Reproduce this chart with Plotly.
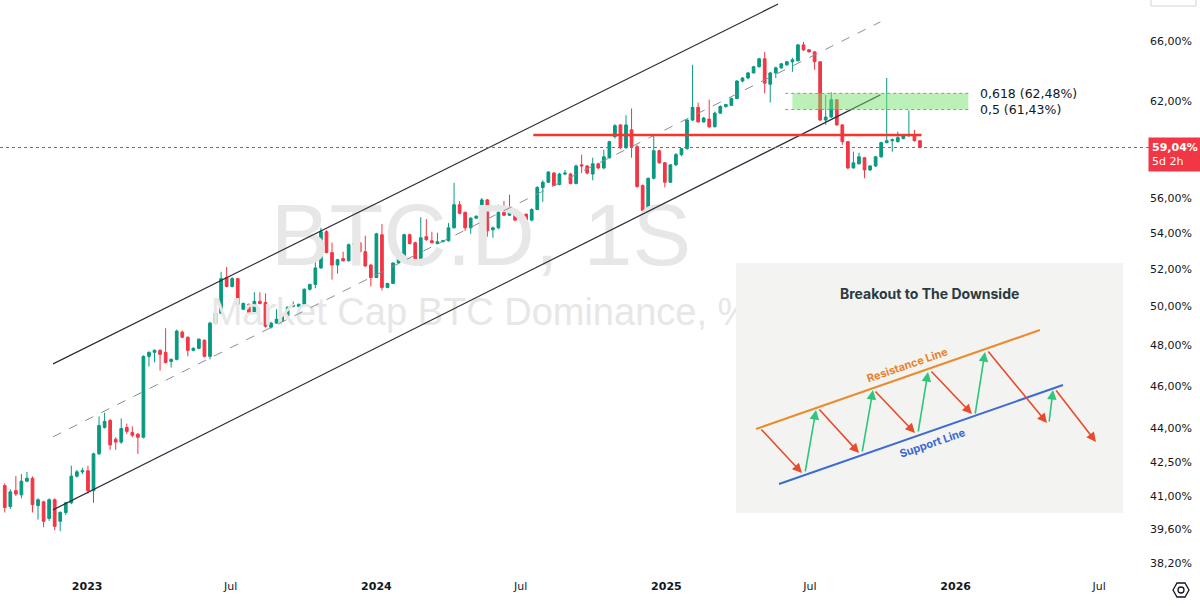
import numpy as np
import pandas as pd
import plotly.graph_objects as go

# ---------------- data (weekly BTC.D candles, %) ----------------
week_start = "2022-09-19"
opens = [41.45, 40.55, 41.23, 41.05, 41.64, 41.77, 40.59, 40.75, 40.05, 40.84,
         39.93, 40.30, 40.71, 41.86, 42.05, 42.10, 41.23, 42.85, 44.05, 44.37,
         43.51, 43.38, 44.05, 43.82, 43.74, 43.60, 47.45, 47.65, 47.75, 47.65,
         47.20, 47.30, 48.67, 48.41, 47.75, 47.85, 48.26, 47.45, 49.13, 49.64,
         51.53, 51.05, 51.47, 49.85, 50.10, 49.69, 50.26, 50.20, 48.92, 49.13,
         49.23, 49.49, 50.00, 50.00, 50.10, 50.90, 51.16, 52.05, 54.06, 52.89,
         52.21, 52.56, 52.44, 53.33, 53.44, 52.94, 52.21, 51.53, 53.89, 51.00,
         51.21, 52.32, 52.61, 53.89, 53.44, 52.21, 53.78, 53.55, 53.39, 53.50,
         53.55, 54.28, 55.61, 55.17, 54.28, 54.83, 54.94, 55.89, 54.17, 54.28,
         55.17, 55.00, 55.28, 54.72, 55.06, 54.72, 55.33, 56.62, 56.93, 57.48,
         56.80, 57.42, 57.42, 56.86, 57.98, 57.91, 57.42, 58.04, 57.79, 58.41,
         59.71, 60.45, 59.03, 60.14, 59.09, 56.74, 55.28, 57.17, 58.84, 58.10,
         56.93, 57.98, 58.60, 58.97, 60.76, 61.57, 60.64, 60.82, 60.33, 61.20,
         61.63, 61.70, 62.14, 63.29, 63.49, 63.83, 64.24, 64.78, 63.08, 63.83,
         64.17, 64.37, 64.58, 64.64, 65.73, 65.39, 65.25, 64.58, 60.76, 60.95,
         62.07, 60.45, 59.40, 57.79, 58.04, 58.41, 57.67, 57.91, 58.47, 59.34,
         59.46, 59.40, 59.59, 59.77, 59.83, 59.46]
highs = [41.55, 41.30, 41.86, 41.95, 42.05, 41.85, 40.90, 40.80, 40.90, 40.90,
         40.35, 40.75, 42.32, 42.14, 42.23, 42.32, 42.90, 44.56, 44.74, 44.45,
         43.60, 44.47, 44.23, 44.10, 43.80, 47.50, 47.70, 47.80, 47.80, 48.87,
         47.35, 48.80, 48.75, 48.45, 47.90, 48.35, 48.30, 49.20, 49.70, 51.84,
         52.10, 51.55, 51.50, 50.20, 50.15, 50.74, 50.74, 50.68, 49.20, 49.85,
         49.55, 50.00, 50.26, 50.15, 50.95, 51.20, 52.67, 54.28, 54.15, 53.44,
         52.55, 52.94, 53.40, 55.28, 53.50, 53.83, 52.25, 54.00, 54.50, 51.25,
         52.35, 52.65, 53.95, 53.95, 53.50, 54.89, 54.78, 54.06, 54.00, 53.60,
         54.55, 56.89, 55.83, 55.20, 54.90, 55.00, 56.00, 55.95, 54.35, 55.61,
         55.83, 56.19, 55.35, 55.10, 55.10, 55.40, 56.70, 57.05, 57.60, 57.55,
         57.50, 57.67, 57.50, 58.00, 58.60, 57.95, 58.41, 58.10, 58.90, 59.45,
         60.50, 60.50, 61.07, 61.50, 59.20, 56.80, 57.20, 59.77, 58.90, 58.15,
         58.00, 58.70, 59.00, 60.80, 64.37, 61.88, 60.95, 62.07, 61.30, 61.70,
         61.80, 62.20, 63.35, 63.55, 63.90, 64.30, 64.85, 65.25, 63.90, 64.25,
         64.50, 64.65, 64.85, 65.80, 65.93, 65.45, 65.30, 64.60, 62.37, 62.55,
         62.10, 60.50, 59.45, 58.78, 58.72, 58.45, 57.95, 58.50, 59.40, 63.49,
         59.60, 60.02, 59.80, 61.38, 60.14, 59.50]
lows = [40.30, 40.45, 41.00, 40.90, 41.60, 40.30, 40.00, 39.68, 39.95, 39.56,
        39.52, 40.20, 40.65, 41.80, 41.95, 41.10, 40.71, 42.80, 44.00, 43.03,
        43.03, 43.30, 43.74, 43.60, 42.85, 43.55, 46.95, 47.15, 46.75, 47.10,
        46.90, 47.25, 48.35, 47.45, 47.70, 47.80, 47.40, 47.30, 49.10, 49.60,
        51.00, 51.00, 50.05, 49.80, 49.65, 49.65, 50.10, 48.90, 48.85, 49.10,
        49.20, 49.45, 49.95, 49.95, 50.05, 50.84, 50.95, 52.00, 52.85, 51.42,
        51.74, 52.40, 52.40, 53.30, 52.90, 52.10, 51.05, 51.50, 50.84, 50.95,
        51.20, 52.30, 52.55, 53.35, 52.20, 52.15, 53.55, 53.40, 53.35, 53.45,
        53.50, 54.25, 55.05, 54.11, 53.94, 54.80, 54.90, 53.78, 53.72, 54.20,
        54.95, 54.95, 54.65, 54.65, 54.65, 54.65, 55.30, 55.78, 56.90, 56.70,
        56.75, 57.35, 56.80, 56.80, 57.48, 57.40, 57.05, 57.70, 57.70, 58.35,
        59.60, 58.95, 58.95, 58.41, 56.60, 54.56, 55.20, 57.10, 58.05, 56.62,
        56.90, 57.90, 58.50, 58.90, 60.70, 60.60, 60.60, 60.25, 60.30, 61.15,
        61.55, 61.65, 62.10, 63.20, 63.40, 63.80, 64.20, 62.47, 61.88, 63.49,
        64.10, 64.30, 63.90, 64.60, 65.30, 65.20, 64.03, 60.70, 60.45, 60.90,
        60.40, 59.20, 57.70, 57.75, 58.00, 57.17, 57.60, 57.85, 58.40, 59.30,
        58.78, 59.35, 59.55, 59.70, 59.40, 59.00]
closes = [40.51, 41.18, 41.09, 41.64, 41.77, 40.63, 40.84, 39.93, 40.84, 39.72,
          40.30, 40.71, 41.86, 42.05, 42.10, 41.23, 42.85, 44.14, 44.33, 43.25,
          43.38, 44.00, 43.87, 43.69, 43.60, 47.45, 47.65, 47.75, 47.55, 47.15,
          47.30, 48.72, 48.41, 47.75, 47.85, 48.31, 47.45, 49.13, 49.64, 51.47,
          51.05, 51.47, 50.10, 50.15, 49.69, 50.26, 50.15, 48.97, 49.13, 49.33,
          49.49, 49.95, 50.05, 50.10, 50.90, 51.16, 52.05, 54.06, 52.89, 52.21,
          52.50, 52.44, 53.33, 53.44, 52.94, 52.16, 51.53, 53.94, 51.00, 51.21,
          52.32, 52.61, 53.89, 53.39, 52.27, 53.72, 53.61, 53.44, 53.50, 53.55,
          54.28, 55.61, 55.11, 54.28, 54.83, 54.94, 55.89, 54.11, 54.28, 55.17,
          55.00, 55.28, 54.72, 55.06, 54.72, 55.33, 56.62, 56.93, 57.54, 56.74,
          57.42, 57.48, 56.86, 57.91, 57.91, 57.48, 58.04, 57.79, 58.47, 59.40,
          60.40, 59.03, 60.45, 59.09, 56.68, 55.28, 57.17, 58.84, 58.10, 56.93,
          57.98, 58.60, 58.97, 60.76, 61.57, 60.64, 60.89, 60.33, 61.20, 61.63,
          61.75, 62.14, 63.29, 63.49, 63.83, 64.24, 64.78, 63.15, 63.83, 64.17,
          64.44, 64.58, 64.71, 65.73, 65.39, 65.25, 64.58, 60.76, 60.95, 62.07,
          60.45, 59.40, 57.79, 58.10, 58.47, 57.67, 57.91, 58.47, 59.34, 59.46,
          59.52, 59.65, 59.77, 59.83, 59.46, 59.04]

price_ticks = [66, 62, 56, 54, 52, 50, 48, 46, 44, 42.5, 41, 39.6, 38.2]
price_tick_text = ["66,00%", "62,00%", "56,00%", "54,00%", "52,00%", "50,00%",
                   "48,00%", "46,00%", "44,00%", "42,50%", "41,00%", "39,60%", "38,20%"]
date_ticks = ["2023-01-01", "2023-07-01", "2024-01-01", "2024-07-01",
              "2025-01-01", "2025-07-01", "2026-01-01", "2026-07-01"]
date_tick_text = ["<b>2023</b>", "Jul", "<b>2024</b>", "Jul",
                  "<b>2025</b>", "Jul", "<b>2026</b>", "Jul"]

last_price = 59.04
last_label = "<b>59,04%</b><br>5d 2h"
fib_levels = [62.48, 61.43]
fib_labels = ["0,618 (62,48%)", "0,5 (61,43%)"]
fib_zone_dates = ["2025-06-09", "2026-01-17"]
fib_line_dates = ["2025-05-31", "2026-01-17"]
resistance_level = 59.82
resistance_dates = ["2024-07-17", "2025-11-19"]
upper_dates, upper_vals = ["2022-11-19", "2025-05-22"], [47.08, 68.6]
mid_dates, mid_vals = ["2022-11-19", "2025-09-28"], [43.62, 67.33]
lower_dates, lower_vals = ["2022-11-19", "2025-09-28"], [40.41, 62.38]
watermark_date = "2024-05-12"
watermark_vals = [53.43, 49.5]
watermark_text = ["BTC.D, 1S", "Market Cap BTC Dominance, %"]

x_range = ["2022-09-13", "2026-09-02"]
y_range = [37.63, 68.89]

# ---------------- styling ----------------
UP, DN = "#089981", "#f23645"
TXT = "#131722"
W, H = 1200, 606
ML, MR, MT, MB = 0, 51, 0, 28
PW, PH = W - ML - MR, H - MT - MB


def PX(x):
    return (x - ML) / PW


def PY(y):
    return 1 - (y - MT) / PH


dates = pd.date_range(week_start, periods=len(opens), freq="7D")

fig = go.Figure()

# watermark (below candles)
fig.add_trace(go.Scatter(
    x=[watermark_date, watermark_date], y=watermark_vals, mode="text",
    text=watermark_text, textposition="middle center",
    textfont=dict(size=[88, 38], color="#e7e7e7", family="Liberation Sans"),
    hoverinfo="skip", showlegend=False))

fig.add_trace(go.Candlestick(
    x=dates, open=opens, high=highs, low=lows, close=closes,
    increasing=dict(line=dict(color=UP, width=1), fillcolor=UP),
    decreasing=dict(line=dict(color=DN, width=1), fillcolor=DN),
    whiskerwidth=0, showlegend=False, hoverinfo="skip"))

# channel
fig.add_trace(go.Scatter(x=upper_dates, y=upper_vals, mode="lines",
                         line=dict(color="#2a2e39", width=1.2), showlegend=False, hoverinfo="skip"))
fig.add_trace(go.Scatter(x=mid_dates, y=mid_vals, mode="lines",
                         line=dict(color="#8a8d96", width=1, dash="dash"), showlegend=False, hoverinfo="skip"))
fig.add_trace(go.Scatter(x=lower_dates, y=lower_vals, mode="lines",
                         line=dict(color="#2a2e39", width=1.2), showlegend=False, hoverinfo="skip"))

# horizontal resistance
fig.add_trace(go.Scatter(x=resistance_dates, y=[resistance_level] * 2, mode="lines",
                         line=dict(color="#f4372b", width=2.5), showlegend=False, hoverinfo="skip"))

# current price dotted line
fig.add_trace(go.Scatter(x=x_range, y=[last_price] * 2, mode="lines",
                         line=dict(color="#f23645", width=1, dash="dot"), showlegend=False, hoverinfo="skip"))

# fib zone
z0, z1 = fib_zone_dates
fig.add_trace(go.Scatter(x=[z0, z1, z1, z0, z0],
                         y=[fib_levels[1], fib_levels[1], fib_levels[0], fib_levels[0], fib_levels[1]],
                         mode="lines", fill="toself", fillcolor="rgba(120,225,110,0.5)",
                         line=dict(width=0), showlegend=False, hoverinfo="skip"))
for lv in fib_levels:
    fig.add_trace(go.Scatter(x=fib_line_dates, y=[lv, lv], mode="lines",
                             line=dict(color="#8a9a8a", width=1, dash="dot"),
                             showlegend=False, hoverinfo="skip"))

shapes = []
annotations = []

for lv, lab in zip(fib_levels, fib_labels):
    annotations.append(dict(xref="paper", x=PX(978), xanchor="left", yref="y", y=np.log10(lv),
                            yanchor="middle", text=lab, showarrow=False,
                            font=dict(family="DejaVu Sans", size=12.5, color=TXT)))

annotations.append(dict(xref="paper", x=PX(1148), xanchor="left", yref="y", y=np.log10(last_price),
                        yanchor="middle", yshift=-7, text=last_label, showarrow=False, align="left",
                        bgcolor="#f23645", borderpad=3, width=48,
                        font=dict(family="DejaVu Sans", size=11, color="white")))

# ---------------- inset illustration ----------------
shapes.append(dict(type="rect", xref="paper", yref="paper", x0=PX(736), x1=PX(1123),
                   y0=PY(513), y1=PY(263), fillcolor="#f3f3f1", line=dict(width=0), layer="above"))
shapes.append(dict(type="line", xref="paper", yref="paper", x0=PX(756), y0=PY(429), x1=PX(1040), y1=PY(330),
                   line=dict(color="#ec8a2e", width=2), layer="above"))
shapes.append(dict(type="line", xref="paper", yref="paper", x0=PX(779), y0=PY(484), x1=PX(1063), y1=PY(385),
                   line=dict(color="#3d6ad6", width=2), layer="above"))

red_arrows = [((760, 428), (802, 473)), ((818, 408), (859, 453)), ((874, 390), (915, 433)),
              ((930, 370), (972, 414)), ((987, 350), (1047, 423)), ((1055, 389), (1096, 442))]
green_arrows = [((805, 473), (816, 410)), ((862, 453), (873, 390)), ((918, 433), (928, 372)),
                ((975, 415), (985, 352)), ((1049, 423), (1053, 390))]
for arrows, col in ((red_arrows, "#ea4a2c"), (green_arrows, "#2fc67c")):
    for (tx, ty), (hx, hy) in arrows:
        annotations.append(dict(xref="paper", yref="paper", x=PX(hx), y=PY(hy),
                                ax=tx - hx, ay=ty - hy, axref="pixel", ayref="pixel",
                                text="", showarrow=True, arrowhead=2, arrowsize=1.2,
                                arrowwidth=1.6, arrowcolor=col, standoff=0))

annotations.append(dict(xref="paper", yref="paper", x=PX(929), y=PY(293), xanchor="center", yanchor="middle",
                        text="<b>Breakout to The Downside</b>",
                        showarrow=False, font=dict(family="Inter", size=14, color="#2b3a3f")))
annotations.append(dict(xref="paper", yref="paper", x=PX(907), y=PY(365), xanchor="center", yanchor="middle",
                        text="<b>Resistance Line</b>",
                        showarrow=False, textangle=-19, font=dict(family="Inter", size=11, color="#e8822a")))
annotations.append(dict(xref="paper", yref="paper", x=PX(932), y=PY(443), xanchor="center", yanchor="middle",
                        text="<b>Support Line</b>",
                        showarrow=False, textangle=-19, font=dict(family="Inter", size=11, color="#3b66d4")))

# settings icon (hexagon) bottom right and top-right button outline
cx, cy = 1181, 590
hexpts = [(cx - 8, cy), (cx - 4, cy - 7), (cx + 4, cy - 7), (cx + 8, cy), (cx + 4, cy + 7), (cx - 4, cy + 7)]
path = "M " + " L ".join(f"{PX(x):.5f},{PY(y):.5f}" for x, y in hexpts) + " Z"
shapes.append(dict(type="path", xref="paper", yref="paper", path=path,
                   line=dict(color=TXT, width=1.3), layer="above"))
shapes.append(dict(type="circle", xref="paper", yref="paper", x0=PX(cx - 3), x1=PX(cx + 3),
                   y0=PY(cy + 3), y1=PY(cy - 3), line=dict(color=TXT, width=1.3), layer="above"))
shapes.append(dict(type="rect", xref="paper", yref="paper", x0=PX(1151), x1=PX(1196),
                   y0=PY(6), y1=PY(-10), line=dict(color="#d1d4dc", width=1), fillcolor="white", layer="above"))

fig.update_layout(
    width=W, height=H, margin=dict(l=ML, r=MR, t=MT, b=MB),
    paper_bgcolor="white", plot_bgcolor="white", showlegend=False,
    shapes=shapes, annotations=annotations,
    xaxis=dict(type="date", range=x_range, tickvals=date_ticks, ticktext=date_tick_text,
               showgrid=False, zeroline=False, showline=False, ticks="",
               tickfont=dict(family="DejaVu Sans", size=11, color=TXT),
               rangeslider=dict(visible=False)),
    yaxis=dict(type="log", side="right", range=[np.log10(y_range[0]), np.log10(y_range[1])],
               tickvals=price_ticks, ticktext=price_tick_text, showgrid=False, zeroline=False,
               showline=False, ticks="", tickfont=dict(family="DejaVu Sans", size=11, color=TXT)),
)

fig.write_html("out.html")
